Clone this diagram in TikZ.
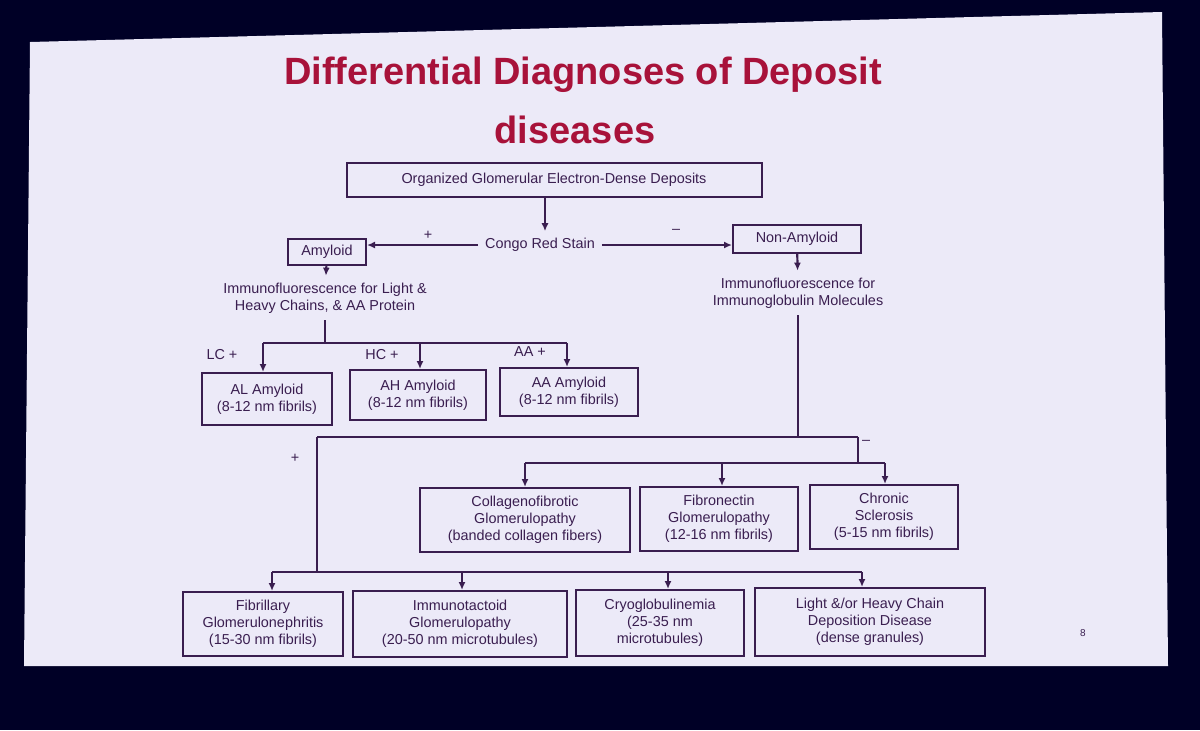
\documentclass[tikz,border=0pt]{standalone}
\usepackage{fontspec}
\setmainfont{Liberation Sans}
\begin{document}
\begin{tikzpicture}[x=0.5pt,y=-0.5pt,
  bx/.style={draw=lc,line width=1pt,fill=slide,align=center,font=\fontsize{7.2}{8.6}\selectfont,text=lc,inner sep=2pt},
  tx/.style={align=center,font=\fontsize{7.2}{8.6}\selectfont,text=lc},
  ln/.style={draw=lc,line width=1.1pt},
  ar/.style={ln,-{Latex[length=4pt,width=3.5pt]}}]
\usetikzlibrary{arrows.meta}
\definecolor{lc}{HTML}{3A1E50}
\definecolor{slide}{HTML}{ECEAF8}
\definecolor{ttl}{HTML}{A8123A}
\useasboundingbox (0,0) rectangle (1200,730);
\fill[black!85!blue] (0,0) rectangle (1200,730);
\fill[slide] (30,42) -- (1162,12) -- (1168,666) -- (24,666) -- cycle;
\node[text=ttl,font=\bfseries\fontsize{19}{22}\selectfont] (t1) at (583,75) {Differential Diagnoses of Deposit};
\node[text=ttl,font=\bfseries\fontsize{19}{22}\selectfont] (t2) at (575,130) {diseases};
\node[bx,minimum width=207.5pt,minimum height=17pt] (top) at (554,180) {Organized Glomerular Electron-Dense Deposits};
\node[tx] (congo) at (540,245) {Congo Red Stain};
\node[bx,minimum width=39pt,minimum height=13pt] (amy) at (327,252) {Amyloid};
\node[bx,minimum width=64pt,minimum height=14pt] (non) at (797,239) {Non-Amyloid};
\node[tx] at (428,235) {+};
\node[tx] at (676,231) {--};
\node[tx] (ifl) at (325,298) {Immunofluorescence for Light \&\\Heavy Chains, \& AA Protein};
\node[tx] (ifr) at (798,293) {Immunofluorescence for\\Immunoglobulin Molecules};
\draw[ar] (top.south -| 545,0) -- (congo.north -| 545,0);
\draw[ar] (congo.west) -- (amy.east |- congo.west);
\draw[ar] (congo.east) -- (non.west |- congo.east);
\draw[ar] (amy) -- (ifl);
\draw[ar] (non) -- (ifr);
\node[tx] at (222,355) {LC +};
\node[tx] at (382,355) {HC +};
\node[tx] at (530,352) {AA +};
\node[bx,minimum width=65pt,minimum height=26pt] (al) at (267,399) {AL Amyloid\\(8-12 nm fibrils)};
\node[bx,minimum width=68pt,minimum height=25pt] (ah) at (418,395) {AH Amyloid\\(8-12 nm fibrils)};
\node[bx,minimum width=69pt,minimum height=24pt] (aa) at (569,392) {AA Amyloid\\(8-12 nm fibrils)};
\coordinate (j1) at (325,343);
\draw[ln] (ifl) -- (j1);
\draw[ln] (263,343) -- (567,343);
\draw[ar] (263,343) -- (al.north -| 263,0);
\draw[ar] (420,343) -- (ah.north -| 420,0);
\draw[ar] (567,343) -- (aa.north -| 567,0);
\draw[ln] (ifr) -- (798,437);
\draw[ln] (317,437) -- (858,437);
\node[tx] at (295,458) {+};
\node[tx] at (866,442) {--};
\draw[ln] (858,437) -- (858,463);
\draw[ln] (525,463) -- (885,463);
\node[bx,minimum width=105pt,minimum height=32pt] (col) at (525,520) {Collagenofibrotic\\Glomerulopathy\\(banded collagen fibers)};
\node[bx,minimum width=79pt,minimum height=32pt] (fib) at (719,519) {Fibronectin\\Glomerulopathy\\(12-16 nm fibrils)};
\node[bx,minimum width=74pt,minimum height=32pt] (chr) at (884,517) {Chronic\\Sclerosis\\(5-15 nm fibrils)};
\draw[ar] (525,463) -- (col.north -| 525,0);
\draw[ar] (722,463) -- (fib.north -| 722,0);
\draw[ar] (885,463) -- (chr.north -| 885,0);
\draw[ln] (317,437) -- (317,572);
\draw[ln] (272,572) -- (862,572);
\node[bx,minimum width=80pt,minimum height=32pt] (fgn) at (263,624) {Fibrillary\\Glomerulonephritis\\(15-30 nm fibrils)};
\node[bx,minimum width=107pt,minimum height=33pt] (imt) at (460,624) {Immunotactoid\\Glomerulopathy\\(20-50 nm microtubules)};
\node[bx,minimum width=84pt,minimum height=33pt] (cry) at (660,623) {Cryoglobulinemia\\(25-35 nm\\microtubules)};
\node[bx,minimum width=115pt,minimum height=34pt] (lhc) at (870,622) {Light \&/or Heavy Chain\\Deposition Disease\\(dense granules)};
\draw[ar] (272,572) -- (fgn.north -| 272,0);
\draw[ar] (462,572) -- (imt.north -| 462,0);
\draw[ar] (668,572) -- (cry.north -| 668,0);
\draw[ar] (862,572) -- (lhc.north -| 862,0);
\node[tx,font=\fontsize{5}{6}\selectfont] at (1083,633) {8};
\end{tikzpicture}
\end{document}
